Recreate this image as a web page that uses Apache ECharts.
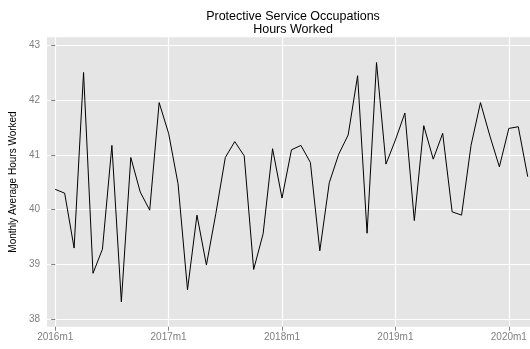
<!DOCTYPE html>
<html>
<head>
<meta charset="utf-8">
<script src="https://cdn.jsdelivr.net/npm/echarts@6/dist/echarts.min.js"></script>
<style>html,body{margin:0;padding:0;background:#fff}#c{width:530px;height:349px}</style>
</head>
<body>
<div id="c"></div>
<script>
const startYear = 2016;
const hours = [
  40.37, 40.30, 39.30, 42.50, 38.84, 39.28, 41.17, 38.32, 40.95, 40.32, 39.99, 41.95,
  41.39, 40.47, 38.54, 39.90, 38.99, 39.93, 40.95, 41.24, 40.98, 38.91, 39.56, 41.11,
  40.21, 41.09, 41.17, 40.86, 39.25, 40.49, 41.01, 41.36, 42.44, 39.57, 42.68, 40.83,
  41.27, 41.76, 39.80, 41.53, 40.92, 41.39, 39.96, 39.90, 41.17, 41.95, 41.34, 40.78,
  41.48, 41.51, 40.60
];
const xTicks = [0, 12, 24, 36, 48];
const yTicks = [38, 39, 40, 41, 42, 43];

const data = hours.map((v, i) => [i, v]);
const font = 'Liberation Sans';
const chart = echarts.init(document.getElementById('c'), null, {renderer: 'canvas'});
chart.setOption({
  animation: false,
  backgroundColor: '#ffffff',
  title: {
    text: 'Protective Service Occupations\nHours Worked',
    left: 288, top: 5, textAlign: 'center',
    textStyle: {fontFamily: font, fontSize: 12.5, fontWeight: 'normal', color: '#000', lineHeight: 13}
  },
  grid: {left: 45.5, right: 0, top: 37.3, bottom: 22.3, show: true, backgroundColor: '#e5e5e5', borderWidth: 0},
  xAxis: {
    type: 'value', min: -0.865, max: 50.24,
    axisLine: {show: false},
    axisTick: {show: true, customValues: xTicks, length: 4, lineStyle: {color: '#7f7f7f', width: 1}},
    axisLabel: {customValues: xTicks, color: '#7f7f7f', fontFamily: font, fontSize: 10, margin: 6,
      formatter: v => (startYear + Math.round(v / 12)) + 'm1'},
    splitLine: {show: true, lineStyle: {color: '#ffffff', width: 1.2}}
  },
  yAxis: {
    type: 'value', min: 37.867, max: 43.14,
    name: 'Monthly Average Hours Worked', nameLocation: 'middle', nameGap: 25, nameRotate: 90,
    nameTextStyle: {fontFamily: font, fontSize: 10, color: '#000'},
    axisLine: {show: false},
    axisTick: {show: true, customValues: yTicks, length: 4, lineStyle: {color: '#7f7f7f', width: 1}},
    axisLabel: {customValues: yTicks, color: '#7f7f7f', fontFamily: font, fontSize: 10, margin: 7},
    splitLine: {show: true, lineStyle: {color: '#ffffff', width: 1.2}}
  },
  series: [{
    type: 'line', data: data, symbol: 'none', clip: true,
    lineStyle: {color: '#000000', width: 1}
  }]
});
</script>
</body>
</html>
